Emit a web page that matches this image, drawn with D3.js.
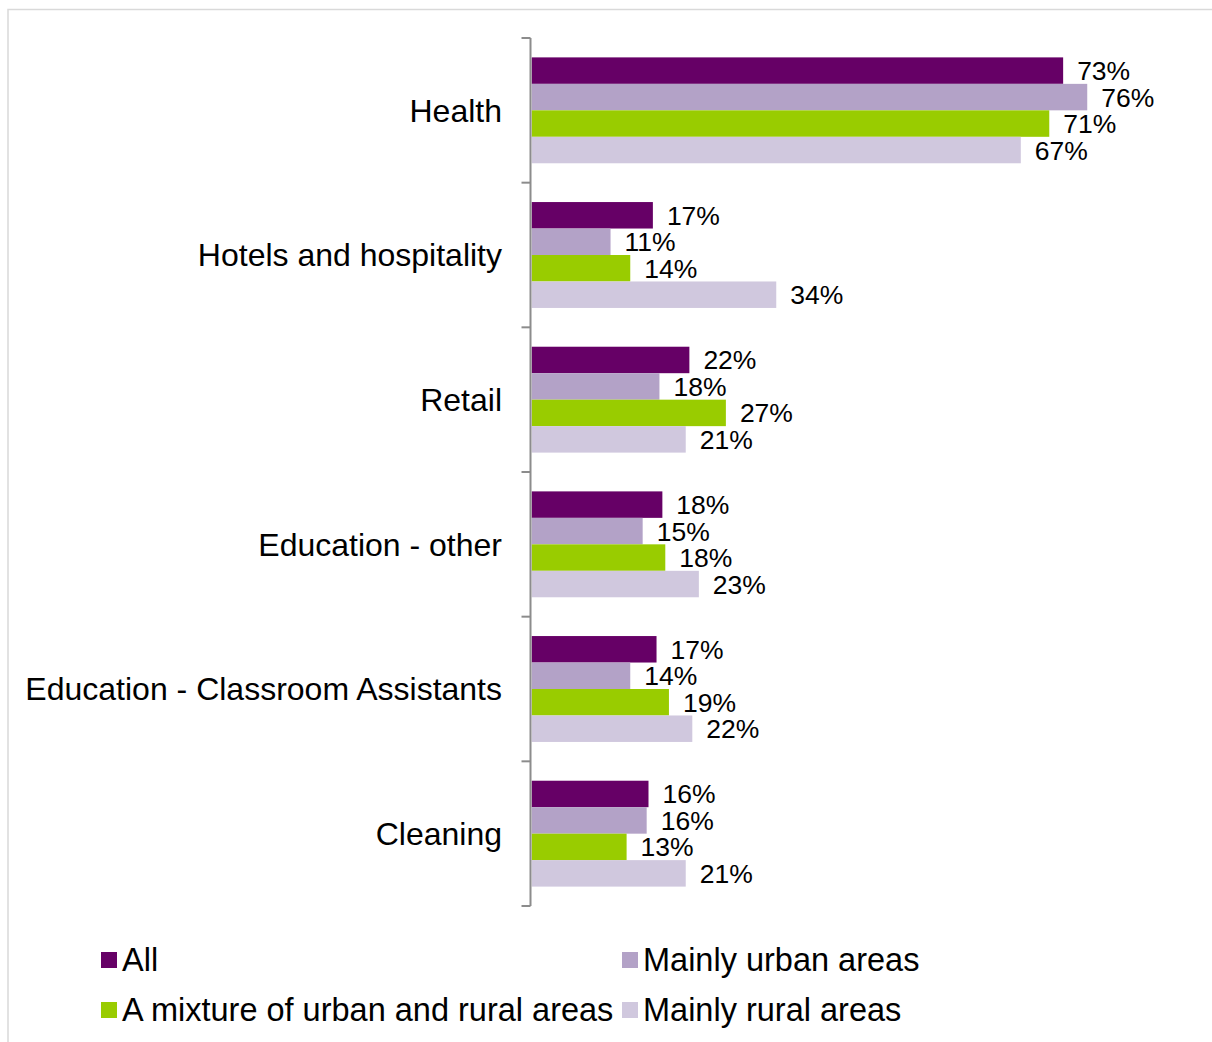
<!DOCTYPE html>
<html>
<head>
<meta charset="utf-8">
<script src="https://cdn.jsdelivr.net/npm/d3@7"></script>
<style>
  html, body { margin: 0; padding: 0; background: #fff; }
  svg { display: block; }
  text { font-family: "Liberation Sans", Arial, sans-serif; fill: #000; }
</style>
</head>
<body>
<svg id="chart" width="1212" height="1042"></svg>
<script>
const categories = ["Health", "Hotels and hospitality", "Retail", "Education - other", "Education - Classroom Assistants", "Cleaning"];
const seriesNames = ["All", "Mainly urban areas", "A mixture of urban and rural areas", "Mainly rural areas"];
const seriesColors = ["#660066", "#b3a2c7", "#99cc00", "#d0c8de"];
const valuesAll   = [72.8, 16.6, 21.6, 17.9, 17.1, 16.0];
const valuesUrban = [76.1, 10.8, 17.5, 15.2, 13.5, 15.75];
const valuesMixed = [70.9, 13.5, 26.6, 18.3, 18.8, 13.0];
const valuesRural = [67.0, 33.5, 21.1, 22.9, 22.0, 21.1];
const seriesValues = [valuesAll, valuesUrban, valuesMixed, valuesRural];

const svg = d3.select("#chart");

// outer chart border
svg.append("rect")
  .attr("x", 8).attr("y", 9.5)
  .attr("width", 1400).attr("height", 1200)
  .attr("fill", "none").attr("stroke", "#d9d9d9").attr("stroke-width", 1.5);

const axisX = 530.5;
const x = d3.scaleLinear().domain([0, 80]).range([531.7, 531.7 + 584]);
const y = d3.scaleBand().domain(categories).range([38, 906]).paddingInner(0).paddingOuter(0);
const bw = y.bandwidth();
const y1 = d3.scaleBand().domain(seriesNames).range([bw * 0.134, bw * 0.866]).padding(0);

const data = [];
categories.forEach((c, i) => {
  seriesNames.forEach((s, j) => {
    data.push({ cat: c, series: s, value: seriesValues[j][i], color: seriesColors[j] });
  });
});

const g = svg.append("g");
g.selectAll("rect.bar").data(data).enter().append("rect")
  .attr("class", "bar")
  .attr("x", x(0))
  .attr("y", d => y(d.cat) + y1(d.series))
  .attr("width", d => x(d.value) - x(0))
  .attr("height", y1.bandwidth())
  .attr("fill", d => d.color);

g.selectAll("text.val").data(data).enter().append("text")
  .attr("class", "val")
  .attr("x", d => x(d.value) + 14)
  .attr("y", d => y(d.cat) + y1(d.series) + y1.bandwidth() / 2)
  .attr("dy", "0.36em")
  .attr("font-size", 26.5)
  .text(d => Math.round(d.value) + "%");

// axis
const ax = svg.append("g").attr("transform", `translate(${axisX},0)`);
ax.append("line").attr("x1", 0).attr("x2", 0).attr("y1", 38).attr("y2", 906)
  .attr("stroke", "#8c8c8c").attr("stroke-width", 2);
const tickYs = categories.map(c => y(c)).concat([y(categories[categories.length - 1]) + bw]);
ax.selectAll("line.tick").data(tickYs).enter().append("line")
  .attr("class", "tick")
  .attr("x1", -9).attr("x2", 0)
  .attr("y1", d => d).attr("y2", d => d)
  .attr("stroke", "#8c8c8c").attr("stroke-width", 2);

// category labels
svg.selectAll("text.cat").data(categories).enter().append("text")
  .attr("class", "cat")
  .attr("x", 502)
  .attr("y", d => y(d) + bw / 2)
  .attr("dy", "0.35em")
  .attr("text-anchor", "end")
  .attr("font-size", 32)
  .text(d => d);

// legend
const legendPos = [
  { x: 101, y: 971 }, { x: 622, y: 971 },
  { x: 101, y: 1021 }, { x: 622, y: 1021 }
];
const lg = svg.selectAll("g.leg").data(seriesNames).enter().append("g").attr("class", "leg")
  .attr("transform", (d, i) => `translate(${legendPos[i].x},${legendPos[i].y})`);
lg.append("rect").attr("x", 0).attr("y", -19).attr("width", 16).attr("height", 16)
  .attr("fill", (d, i) => seriesColors[i]);
lg.append("text").attr("x", 21).attr("y", 0).attr("font-size", 32.5).text(d => d);
</script>
</body>
</html>
